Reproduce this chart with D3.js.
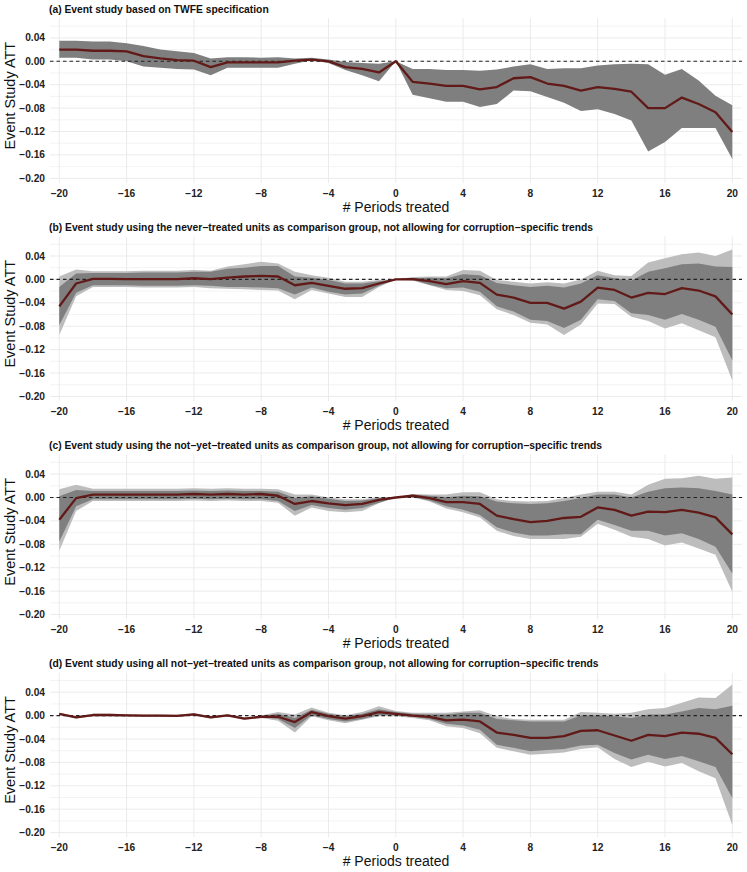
<!DOCTYPE html>
<html>
<head>
<meta charset="utf-8">
<script src="https://cdn.jsdelivr.net/npm/d3@7"></script>
<style>
  html, body { margin: 0; padding: 0; background: #fff; }
  svg { display: block; }
</style>
</head>
<body>
<div id="chart"></div>
<script>
// Periods relative to treatment
const periods = [-20, -19, -18, -17, -16, -15, -14, -13, -12, -11, -10, -9, -8, -7, -6, -5, -4, -3, -2, -1,
                 0, 1, 2, 3, 4, 5, 6, 7, 8, 9, 10, 11, 12, 13, 14, 15, 16, 17, 18, 19, 20];
const xTicks = [-20, -16, -12, -8, -4, 0, 4, 8, 12, 16, 20];
const yTicks = [0.04, 0.00, -0.04, -0.08, -0.12, -0.16, -0.20];
const yMinor = [0.06, 0.02, -0.02, -0.06, -0.10, -0.14, -0.18];

const titles = [
  "(a) Event study based on TWFE specification",
  "(b) Event study using the never\u2212treated units as comparison group, not allowing for corruption\u2212specific trends",
  "(c) Event study using the not\u2212yet\u2212treated units as comparison group, not allowing for corruption\u2212specific trends",
  "(d) Event study using all not\u2212yet\u2212treated units as comparison group, not allowing for corruption\u2212specific trends"
];

// (a) TWFE
const attA = [0.020, 0.020, 0.018, 0.018, 0.017, 0.009, 0.005, 0.002, 0.001, -0.010, -0.002, -0.002, -0.002, -0.002, 0.001, 0.003, 0.000, -0.010, -0.013, -0.019,
              0, -0.035, -0.038, -0.042, -0.042, -0.048, -0.044, -0.029, -0.027, -0.038, -0.042, -0.050, -0.044, -0.047, -0.052, -0.080, -0.080, -0.062, -0.073, -0.087, -0.121];
const ciHiA = [0.035, 0.035, 0.034, 0.034, 0.031, 0.026, 0.020, 0.017, 0.014, 0.005, 0.007, 0.007, 0.006, 0.007, 0.005, 0.006, 0.003, -0.001, -0.003, -0.004,
               0, -0.013, -0.013, -0.015, -0.015, -0.016, -0.014, -0.009, -0.005, -0.013, -0.012, -0.012, -0.007, -0.005, -0.004, -0.005, -0.023, -0.013, -0.033, -0.059, -0.075];
const ciLoA = [0.006, 0.006, 0.003, 0.003, 0.000, -0.009, -0.011, -0.013, -0.014, -0.024, -0.011, -0.011, -0.011, -0.011, -0.004, 0.002, -0.003, -0.015, -0.024, -0.034,
               0, -0.057, -0.063, -0.069, -0.069, -0.078, -0.073, -0.050, -0.051, -0.061, -0.071, -0.085, -0.082, -0.090, -0.101, -0.154, -0.138, -0.114, -0.114, -0.114, -0.167];

// (b) never-treated
const attB = [-0.046, -0.007, 0.001, 0.001, 0.0005, 0.0005, 0.0005, 0.0005, 0.002, 0.0005, 0.003, 0.005, 0.006, 0.005, -0.010, -0.006, -0.011, -0.016, -0.015, -0.007,
              0, 0.0005, -0.003, -0.008, -0.003, -0.006, -0.026, -0.031, -0.040, -0.040, -0.050, -0.038, -0.014, -0.018, -0.031, -0.023, -0.025, -0.015, -0.019, -0.029, -0.060];
const ciHiB = [-0.013, 0.010, 0.011, 0.011, 0.011, 0.012, 0.012, 0.012, 0.013, 0.013, 0.018, 0.020, 0.023, 0.023, 0.005, 0.003, -0.001, -0.007, -0.007, -0.003,
               0, 0.002, 0.003, 0.002, 0.009, 0.007, -0.006, -0.010, -0.013, -0.011, -0.014, -0.007, 0.007, 0.002, -0.002, 0.013, 0.019, 0.026, 0.027, 0.022, 0.021];
const ciLoB = [-0.078, -0.023, -0.010, -0.010, -0.010, -0.011, -0.011, -0.011, -0.010, -0.011, -0.013, -0.013, -0.014, -0.015, -0.026, -0.014, -0.021, -0.026, -0.024, -0.011,
               0, -0.001, -0.009, -0.015, -0.014, -0.021, -0.046, -0.055, -0.069, -0.071, -0.083, -0.069, -0.034, -0.037, -0.058, -0.061, -0.069, -0.059, -0.069, -0.081, -0.138];
const cbHiB = [0.005, 0.017, 0.014, 0.014, 0.014, 0.015, 0.015, 0.015, 0.016, 0.015, 0.022, 0.026, 0.030, 0.027, 0.013, 0.007, 0.003, -0.004, -0.004, -0.001,
               0, 0.004, 0.005, 0.005, 0.016, 0.015, -0.001, -0.004, -0.007, -0.005, -0.007, 0.000, 0.015, 0.007, 0.006, 0.029, 0.036, 0.043, 0.046, 0.040, 0.051];
const cbLoB = [-0.095, -0.029, -0.013, -0.013, -0.013, -0.014, -0.014, -0.014, -0.013, -0.015, -0.016, -0.017, -0.018, -0.019, -0.034, -0.018, -0.024, -0.030, -0.030, -0.013,
               0, -0.002, -0.010, -0.018, -0.020, -0.027, -0.051, -0.061, -0.074, -0.077, -0.095, -0.077, -0.041, -0.042, -0.064, -0.071, -0.084, -0.075, -0.087, -0.099, -0.173];

// (c) not-yet-treated
const attC = [-0.038, -0.001, 0.005, 0.005, 0.005, 0.005, 0.005, 0.005, 0.006, 0.005, 0.006, 0.005, 0.006, 0.003, -0.011, -0.006, -0.010, -0.013, -0.011, -0.004,
              0, 0.003, -0.001, -0.008, -0.008, -0.011, -0.031, -0.037, -0.042, -0.040, -0.035, -0.033, -0.017, -0.021, -0.031, -0.024, -0.025, -0.021, -0.026, -0.034, -0.063];
const ciHiC = [0.002, 0.013, 0.011, 0.011, 0.011, 0.011, 0.011, 0.011, 0.012, 0.011, 0.012, 0.011, 0.011, 0.010, -0.001, 0.002, -0.002, -0.006, -0.005, -0.001,
               0, 0.005, 0.003, 0.0005, 0.003, 0.002, -0.007, -0.010, -0.011, -0.010, -0.006, -0.001, 0.005, 0.005, 0.000, 0.010, 0.016, 0.017, 0.016, 0.011, 0.005];
const ciLoC = [-0.075, -0.015, -0.003, -0.003, -0.003, -0.003, -0.003, -0.003, -0.002, -0.003, -0.002, -0.003, -0.003, -0.006, -0.023, -0.013, -0.018, -0.021, -0.018, -0.009,
               0, 0.001, -0.005, -0.015, -0.021, -0.030, -0.051, -0.060, -0.065, -0.065, -0.063, -0.063, -0.038, -0.047, -0.057, -0.057, -0.065, -0.061, -0.071, -0.084, -0.130];
const cbHiC = [0.014, 0.022, 0.015, 0.015, 0.015, 0.015, 0.015, 0.015, 0.016, 0.015, 0.016, 0.015, 0.015, 0.014, 0.005, 0.005, 0.000, -0.003, -0.003, 0.0005,
               0, 0.006, 0.005, 0.005, 0.009, 0.009, -0.003, -0.006, -0.007, -0.006, -0.001, 0.005, 0.010, 0.010, 0.005, 0.022, 0.032, 0.033, 0.037, 0.032, 0.034];
const cbLoC = [-0.091, -0.023, -0.006, -0.006, -0.006, -0.006, -0.006, -0.006, -0.005, -0.006, -0.005, -0.006, -0.006, -0.009, -0.031, -0.017, -0.023, -0.025, -0.023, -0.010,
               0, 0.000, -0.007, -0.019, -0.025, -0.034, -0.057, -0.066, -0.071, -0.071, -0.071, -0.067, -0.045, -0.055, -0.067, -0.071, -0.082, -0.077, -0.087, -0.098, -0.161];

// (d) all not-yet-treated
const attD = [0.003, -0.003, 0.001, 0.001, 0.0005, 0.000, 0.000, -0.0005, 0.002, -0.003, 0.0005, -0.005, -0.002, -0.002, -0.011, 0.006, -0.001, -0.005, -0.001, 0.006,
              0.003, 0.000, -0.002, -0.008, -0.007, -0.010, -0.029, -0.033, -0.038, -0.038, -0.035, -0.026, -0.025, -0.034, -0.043, -0.033, -0.035, -0.029, -0.031, -0.038, -0.066];
const ciHiD = [0.004, -0.002, 0.002, 0.002, 0.0015, 0.001, 0.001, 0.0005, 0.003, -0.002, 0.0015, -0.004, -0.001, 0.003, -0.004, 0.010, 0.003, -0.001, 0.003, 0.011,
               0.006, 0.003, 0.002, 0.002, 0.005, 0.005, -0.006, -0.008, -0.010, -0.010, -0.010, 0.000, 0.000, -0.001, -0.004, 0.002, 0.002, 0.007, 0.013, 0.011, 0.017];
const ciLoD = [0.002, -0.004, 0.000, 0.000, -0.0005, -0.001, -0.001, -0.0015, 0.001, -0.004, -0.0005, -0.006, -0.003, -0.006, -0.021, 0.001, -0.006, -0.010, -0.006, 0.001,
               0.0005, -0.002, -0.006, -0.014, -0.017, -0.024, -0.050, -0.055, -0.061, -0.059, -0.057, -0.051, -0.050, -0.064, -0.075, -0.067, -0.074, -0.069, -0.078, -0.088, -0.141];
const cbHiD = [0.005, -0.001, 0.003, 0.003, 0.0025, 0.002, 0.002, 0.0015, 0.004, -0.001, 0.0025, -0.003, 0.000, 0.006, 0.002, 0.014, 0.005, 0.0005, 0.006, 0.016,
               0.008, 0.005, 0.005, 0.005, 0.007, 0.009, -0.001, -0.006, -0.007, -0.007, -0.007, 0.006, 0.005, 0.003, 0.005, 0.011, 0.013, 0.022, 0.031, 0.030, 0.053];
const cbLoD = [0.001, -0.005, -0.001, -0.001, -0.0015, -0.002, -0.002, -0.0025, 0.000, -0.005, -0.0015, -0.007, -0.004, -0.009, -0.029, -0.001, -0.008, -0.013, -0.007, -0.001,
               -0.001, -0.004, -0.008, -0.018, -0.021, -0.030, -0.055, -0.061, -0.067, -0.065, -0.063, -0.057, -0.054, -0.074, -0.088, -0.079, -0.087, -0.081, -0.095, -0.107, -0.187];

const panels = [
  {title: titles[0], att: attA, ci: [ciLoA, ciHiA], cb: null},
  {title: titles[1], att: attB, ci: [ciLoB, ciHiB], cb: [cbLoB, cbHiB]},
  {title: titles[2], att: attC, ci: [ciLoC, ciHiC], cb: [cbLoC, cbHiC]},
  {title: titles[3], att: attD, ci: [ciLoD, ciHiD], cb: [cbLoD, cbHiD]},
];

const width = 747, height = 872;
const panelH = 218.1;
const P = {left: 50, right: 742, top: 18.3, bottom: 183};

const svg = d3.select("#chart").append("svg")
  .attr("width", width).attr("height", height)
  .style("font-family", "'Liberation Sans', Arial, Helvetica, sans-serif");

svg.append("rect").attr("width", width).attr("height", height).attr("fill", "#fff");

const x = d3.scaleLinear().domain([-20, 20]).range([59.3, 732.3]);
const y = d3.scaleLinear().domain([-0.208, 0.0735]).range([P.bottom, P.top]);
const fmt = v => d3.format(".2f")(v).replace("-", "\u2212");
const fmtX = v => String(v).replace("-", "\u2212");

panels.forEach((p, i) => {
  const g = svg.append("g").attr("transform", `translate(0,${i * panelH})`);

  // grid
  g.selectAll("line.ymin").data(yMinor).join("line")
    .attr("x1", P.left).attr("x2", P.right)
    .attr("y1", d => y(d)).attr("y2", d => y(d))
    .attr("stroke", "#f0f0f0").attr("stroke-width", 0.8);
  g.selectAll("line.ymaj").data(yTicks).join("line")
    .attr("x1", P.left).attr("x2", P.right)
    .attr("y1", d => y(d)).attr("y2", d => y(d))
    .attr("stroke", "#ebebeb").attr("stroke-width", 1);
  g.selectAll("line.xmaj").data(xTicks).join("line")
    .attr("x1", d => x(d)).attr("x2", d => x(d))
    .attr("y1", P.top).attr("y2", P.bottom)
    .attr("stroke", "#ebebeb").attr("stroke-width", 1);

  // bands
  const area = band => d3.area()
    .x((d, j) => x(periods[j]))
    .y0((d, j) => y(band[0][j]))
    .y1((d, j) => y(band[1][j]));
  if (p.cb) {
    g.append("path").datum(periods).attr("d", area(p.cb)).attr("fill", "#bdbdbd");
  }
  g.append("path").datum(periods).attr("d", area(p.ci)).attr("fill", "#7f7f7f");

  // zero reference
  g.append("line")
    .attr("x1", P.left).attr("x2", P.right)
    .attr("y1", y(0)).attr("y2", y(0))
    .attr("stroke", "#222").attr("stroke-width", 1.1).attr("stroke-dasharray", "3.5,3");

  // estimate
  g.append("path").datum(p.att)
    .attr("d", d3.line().x((d, j) => x(periods[j])).y(d => y(d)))
    .attr("fill", "none").attr("stroke", "#621a18").attr("stroke-width", 2.3)
    .attr("stroke-linejoin", "round");

  // axes labels
  g.selectAll("text.yt").data(yTicks).join("text")
    .attr("x", 45).attr("y", d => y(d)).attr("dy", "0.35em")
    .attr("text-anchor", "end").attr("font-size", 10.2).attr("font-weight", "bold").attr("fill", "#222")
    .text(fmt);
  g.selectAll("text.xt").data(xTicks).join("text")
    .attr("x", d => x(d)).attr("y", 197)
    .attr("text-anchor", "middle").attr("font-size", 10.2).attr("font-weight", "bold").attr("fill", "#222")
    .text(fmtX);

  g.append("text").attr("x", (P.left + P.right) / 2).attr("y", 212)
    .attr("text-anchor", "middle").attr("font-size", 14).attr("fill", "#111")
    .text("# Periods treated");
  g.append("text").attr("transform", `translate(15,${(P.top + P.bottom) / 2 - 5}) rotate(-90)`)
    .attr("text-anchor", "middle").attr("font-size", 14.5).attr("fill", "#111")
    .text("Event Study ATT");

  g.append("text").attr("x", 49).attr("y", 12.5)
    .attr("font-size", 10.3).attr("font-weight", "bold").attr("fill", "#111")
    .text(p.title);
});
</script>
</body>
</html>
